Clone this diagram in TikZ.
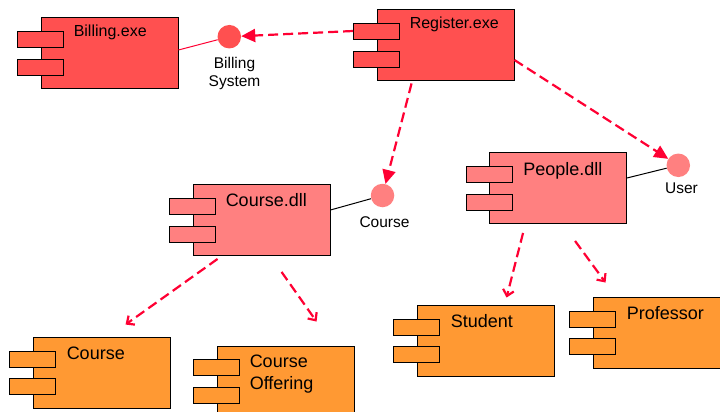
\documentclass[tikz,border=0pt]{standalone}
\usepackage{fontspec}
\setmainfont{Liberation Sans}
\usetikzlibrary{arrows.meta}
\definecolor{exered}{HTML}{FF5050}
\definecolor{dllpink}{HTML}{FF8080}
\definecolor{clsorange}{HTML}{FF9933}
\definecolor{depred}{HTML}{FF0033}
\tikzset{
  comp/.style={draw, line width=0.9pt, minimum width=137pt, minimum height=71pt, inner sep=0pt},
  comptab/.style={draw, line width=0.9pt, minimum width=46pt, minimum height=16pt, inner sep=0pt},
  exetitle/.style={font=\fontsize{16}{19}\selectfont, inner sep=0pt, anchor=base west},
  clstitle/.style={font=\fontsize{18}{22}\selectfont, inner sep=0pt, anchor=base west},
  iface/.style={circle, minimum size=23.5pt, inner sep=0pt},
  iflabel/.style={font=\fontsize{15.5}{18}\selectfont, inner sep=0pt, align=center, anchor=north},
  usedep/.style={depred, line width=2.2pt, dash pattern=on 10pt off 5pt, -{Triangle[length=14pt,width=13pt]}},
  classdep/.style={depred, line width=2.2pt, dash pattern=on 10pt off 5pt, -{Straight Barb[length=6pt,width=11pt]}}
}
\begin{document}
\begin{tikzpicture}[x=1pt,y=-1pt]
\useasboundingbox (0,0) rectangle (720,412);
% executables
\node[comp, fill=exered] (billing) at (109.5,52.5){};
\node[comptab, fill=exered] (billingtabA) at ([shift={(0,-13.5)}]billing.west){};
\node[comptab, fill=exered] (billingtabB) at ([shift={(0,14.5)}]billing.west){};
\node[exetitle] (billingtitle) at ([shift={(33,20)}]billing.north west){Billing.exe};
\node[comp, fill=exered] (register) at (445.5,44.5){};
\node[comptab, fill=exered] (registertabA) at ([shift={(0,-13.5)}]register.west){};
\node[comptab, fill=exered] (registertabB) at ([shift={(0,14.5)}]register.west){};
\node[exetitle] (registertitle) at ([shift={(33,20)}]register.north west){Register.exe};
% libraries
\node[comp, fill=dllpink] (coursedll) at (261.5,220){};
\node[comptab, fill=dllpink] (coursedlltabA) at ([shift={(0,-13.5)}]coursedll.west){};
\node[comptab, fill=dllpink] (coursedlltabB) at ([shift={(0,14.5)}]coursedll.west){};
\node[clstitle] (coursedlltitle) at ([shift={(33,22)}]coursedll.north west){Course.dll};
\node[comp, fill=dllpink] (peopledll) at (558,188){};
\node[comptab, fill=dllpink] (peopledlltabA) at ([shift={(0,-13.5)}]peopledll.west){};
\node[comptab, fill=dllpink] (peopledlltabB) at ([shift={(0,14.5)}]peopledll.west){};
\node[clstitle] (peopledlltitle) at ([shift={(34,23)}]peopledll.north west){People.dll};
% classes
\node[comp, fill=clsorange] (course) at (101.5,372.5){};
\node[comptab, fill=clsorange] (coursetabA) at ([shift={(0,-13.5)}]course.west){};
\node[comptab, fill=clsorange] (coursetabB) at ([shift={(0,14)}]course.west){};
\node[clstitle] (coursetitle) at ([shift={(34,23)}]course.north west){Course};
\node[comp, fill=clsorange] (offering) at (285.5,381.5){};
\node[comptab, fill=clsorange] (offeringtabA) at ([shift={(0,-14.5)}]offering.west){};
\node[comptab, fill=clsorange] (offeringtabB) at ([shift={(0,13.5)}]offering.west){};
\node[clstitle, anchor=north west, align=left] (offeringtitle) at ([shift={(33,9)}]offering.north west){Course\\Offering};
\node[comp, fill=clsorange] (student) at (485.5,340.5){};
\node[comptab, fill=clsorange] (studenttabA) at ([shift={(0,-13.5)}]student.west){};
\node[comptab, fill=clsorange] (studenttabB) at ([shift={(0,14)}]student.west){};
\node[clstitle] (studenttitle) at ([shift={(34,23)}]student.north west){Student};
\node[comp, fill=clsorange] (professor) at (661.5,332.5){};
\node[comptab, fill=clsorange] (professortabA) at ([shift={(0,-13.5)}]professor.west){};
\node[comptab, fill=clsorange] (professortabB) at ([shift={(0,14)}]professor.west){};
\node[clstitle] (professortitle) at ([shift={(34,23)}]professor.north west){Professor};
% interfaces
\node[iface, fill=exered] (billsys) at (229.3,36.7){};
\node[iflabel] (billsyslabel) at (234.5,57.5){Billing\\System};
\node[iface, fill=dllpink] (coursei) at (382.5,195.5){};
\node[iflabel] (courseilabel) at (384.5,216.5){Course};
\node[iface, fill=dllpink] (useri) at (678.3,165.3){};
\node[iflabel] (userilabel) at (681.5,182.5){User};
\draw[depred, line width=1pt] ([shift={(0,-2.5)}]billing.east) -- (billsys);
\draw[line width=1pt] ([shift={(0,-10)}]coursedll.east) -- (coursei);
\draw[line width=1pt] ([shift={(0,-10)}]peopledll.east) -- (useri);
% dependencies
\draw[usedep] (registertabA.west) -- (billsys);
\draw[usedep] ([shift={(35,3)}]register.south west) -- (coursei);
\draw[usedep] ([shift={(0,15.5)}]register.east) -- (useri);
\coordinate (cdllA) at ([shift={(25,3)}]coursedll.south west);
\coordinate (cdllB) at ([shift={(89,16)}]coursedll.south west);
\coordinate (courseend) at ([shift={(93,-12)}]course.north west);
\coordinate (offeringend) at ([shift={(100,-24)}]offering.north west);
\draw[classdep] (cdllA) -- (courseend);
\draw[classdep] (cdllB) -- (offeringend);
\coordinate (pdllA) at ([shift={(34,9)}]peopledll.south west);
\coordinate (pdllB) at ([shift={(86,17)}]peopledll.south west);
\coordinate (studentend) at ([shift={(90,-7)}]student.north west);
\coordinate (professorend) at ([shift={(13,-14)}]professor.north west);
\draw[classdep] (pdllA) -- (studentend);
\draw[classdep] (pdllB) -- (professorend);
\end{tikzpicture}
\end{document}
